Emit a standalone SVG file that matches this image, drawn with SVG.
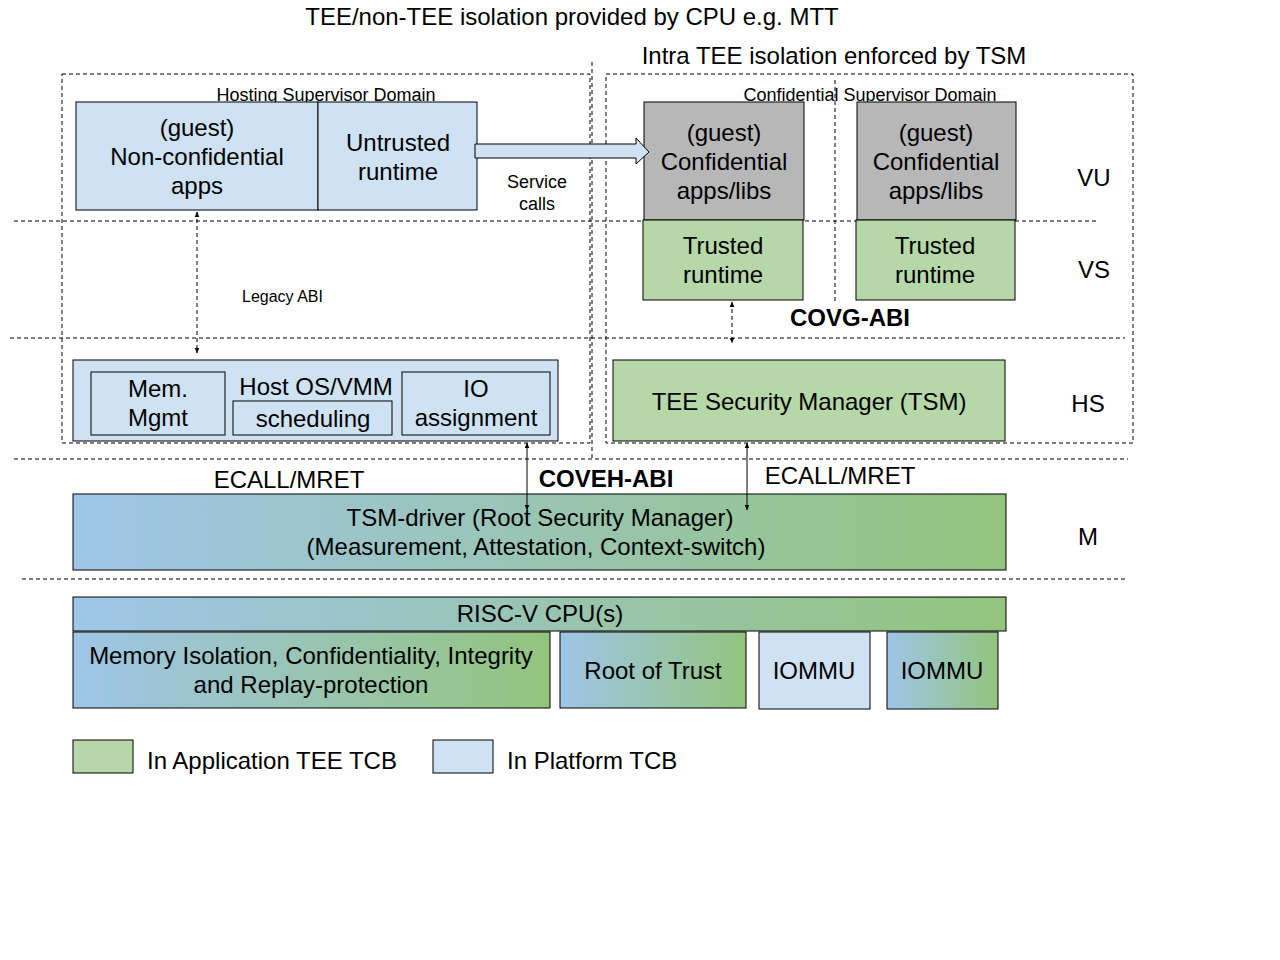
<svg xmlns="http://www.w3.org/2000/svg" width="1280" height="960" viewBox="0 0 1280 960">
<defs>
<linearGradient id="bg" x1="0" y1="0" x2="1" y2="0">
<stop offset="0" stop-color="#9fc5e8"/>
<stop offset="1" stop-color="#93c47d"/>
</linearGradient>
<marker id="ah" viewBox="0 0 10 10" refX="9" refY="5" markerUnits="userSpaceOnUse" markerWidth="6" markerHeight="6" orient="auto-start-reverse">
<path d="M0,1 L10,5 L0,9 Z" fill="#000"/>
</marker>
<style>
text{font-family:"Liberation Sans",Arial,sans-serif;fill:#000;}
.t{font-size:24px;text-anchor:middle;}
.s{font-size:18px;text-anchor:middle;}
.b{font-size:24px;font-weight:bold;text-anchor:middle;}
.dash{fill:none;stroke:#000;stroke-width:1;stroke-dasharray:4,3;}
.blue{fill:#cfe2f3;stroke:#000;stroke-width:1;}
.green{fill:#b6d7a8;stroke:#000;stroke-width:1;}
.gray{fill:#b7b7b7;stroke:#000;stroke-width:1;}
.grad{fill:url(#bg);stroke:#000;stroke-width:1;}
.conn{fill:none;stroke:#000;stroke-width:1;}
</style>
</defs>
<rect width="1280" height="960" fill="#fff"/>

<g id="titles">
<text class="t" x="572" y="25">TEE/non-TEE isolation provided by CPU e.g. MTT</text>
<text class="t" x="834" y="64">Intra TEE isolation enforced by TSM</text>
</g>

<g id="separators">
<line class="dash" x1="14" y1="221" x2="1097" y2="221"/>
<line class="dash" x1="10" y1="338" x2="1125" y2="338"/>
<line class="dash" x1="14" y1="459" x2="1128" y2="459"/>
<line class="dash" x1="22" y1="579" x2="1126" y2="579"/>
<line class="dash" x1="592" y1="62" x2="592" y2="458"/>
<line class="dash" x1="835" y1="80" x2="835" y2="303"/>
</g>

<g id="hosting-domain">
<rect class="dash" x="62" y="74" width="528" height="369"/>
<text class="s" x="326" y="101">Hosting Supervisor Domain</text>
</g>
<g id="confidential-domain">
<rect class="dash" x="606" y="74" width="527" height="369"/>
<text class="s" x="870" y="101">Confidential Supervisor Domain</text>
</g>

<g id="non-confidential-apps">
<rect class="blue" x="76" y="102" width="242" height="108"/>
<text class="t" x="197" y="136">(guest)</text>
<text class="t" x="197" y="165">Non-confidential</text>
<text class="t" x="197" y="194">apps</text>
</g>
<g id="untrusted-runtime">
<rect class="blue" x="318" y="102" width="159" height="108"/>
<text class="t" x="398" y="151">Untrusted</text>
<text class="t" x="398" y="180">runtime</text>
</g>

<g id="conf-apps-1">
<rect class="gray" x="644" y="102" width="160" height="118"/>
<text class="t" x="724" y="141">(guest)</text>
<text class="t" x="724" y="170">Confidential</text>
<text class="t" x="724" y="199">apps/libs</text>
</g>
<g id="trusted-runtime-1">
<rect class="green" x="643" y="220" width="160" height="80"/>
<text class="t" x="723" y="254">Trusted</text>
<text class="t" x="723" y="283">runtime</text>
</g>
<g id="conf-apps-2">
<rect class="gray" x="857" y="102" width="159" height="118"/>
<text class="t" x="936" y="141">(guest)</text>
<text class="t" x="936" y="170">Confidential</text>
<text class="t" x="936" y="199">apps/libs</text>
</g>
<g id="trusted-runtime-2">
<rect class="green" x="856" y="220" width="159" height="80"/>
<text class="t" x="935" y="254">Trusted</text>
<text class="t" x="935" y="283">runtime</text>
</g>

<g id="host-os">
<rect class="blue" x="73" y="360" width="485" height="81"/>
<text class="t" x="316" y="395">Host OS/VMM</text>
</g>
<g id="mem-mgmt">
<rect class="blue" x="91" y="372" width="134" height="63"/>
<text class="t" x="158" y="397">Mem.</text>
<text class="t" x="158" y="426">Mgmt</text>
</g>
<g id="scheduling">
<rect class="blue" x="233" y="401" width="159" height="34"/>
<text class="t" x="313" y="427">scheduling</text>
</g>
<g id="io-assignment">
<rect class="blue" x="402" y="372" width="148" height="63"/>
<text class="t" x="476" y="397">IO</text>
<text class="t" x="476" y="426">assignment</text>
</g>

<g id="tsm">
<rect class="green" x="613" y="360" width="392" height="81"/>
<text class="t" x="809" y="410">TEE Security Manager (TSM)</text>
</g>

<g id="tsm-driver">
<rect class="grad" x="73" y="494" width="933" height="76"/>
<text class="t" x="540" y="526">TSM-driver (Root Security Manager)</text>
<text class="t" x="536" y="555">(Measurement, Attestation, Context-switch)</text>
</g>

<g id="risc-v-cpu">
<rect class="grad" x="73" y="597" width="933" height="34"/>
<text class="t" x="540" y="622">RISC-V CPU(s)</text>
</g>
<g id="memory-isolation">
<rect class="grad" x="73" y="632" width="477" height="76"/>
<text class="t" x="311" y="664">Memory Isolation, Confidentiality, Integrity</text>
<text class="t" x="311" y="693">and Replay-protection</text>
</g>
<g id="root-of-trust">
<rect class="grad" x="560" y="632" width="186" height="76"/>
<text class="t" x="653" y="679">Root of Trust</text>
</g>
<g id="iommu-1">
<rect class="blue" x="759" y="632" width="111" height="77"/>
<text class="t" x="814" y="679">IOMMU</text>
</g>
<g id="iommu-2">
<rect class="grad" x="887" y="632" width="111" height="77"/>
<text class="t" x="942" y="679">IOMMU</text>
</g>

<g id="levels">
<text class="t" x="1094" y="186">VU</text>
<text class="t" x="1094" y="278">VS</text>
<text class="t" x="1088" y="412">HS</text>
<text class="t" x="1088" y="545">M</text>
</g>

<g id="legend">
<rect class="green" x="73" y="740" width="60" height="33"/>
<text x="147" y="769" style="font-size:24px">In Application TEE TCB</text>
<rect class="blue" x="433" y="740" width="60" height="33"/>
<text x="507" y="769" style="font-size:24px">In Platform TCB</text>
</g>

<g id="connectors">
<path class="blue" d="M475,144 L636,144 L636,138 L649,152 L636,164 L636,158 L475,158 Z"/>
<line class="dash" x1="197" y1="212" x2="197" y2="353" marker-start="url(#ah)" marker-end="url(#ah)"/>
<line class="dash" x1="732" y1="302" x2="732" y2="343" marker-start="url(#ah)" marker-end="url(#ah)"/>
<line class="conn" x1="527" y1="443" x2="527" y2="510" marker-start="url(#ah)" marker-end="url(#ah)"/>
<line class="conn" x1="747" y1="443" x2="747" y2="510" marker-start="url(#ah)" marker-end="url(#ah)"/>
</g>

<g id="labels">
<text class="s" x="537" y="188">Service</text>
<text class="s" x="537" y="210">calls</text>
<text x="242" y="302" style="font-size:16px">Legacy ABI</text>
<text class="b" x="850" y="326">COVG-ABI</text>
<text class="t" x="289" y="488">ECALL/MRET</text>
<text class="b" x="606" y="487">COVEH-ABI</text>
<text class="t" x="840" y="484">ECALL/MRET</text>
</g>
</svg>
